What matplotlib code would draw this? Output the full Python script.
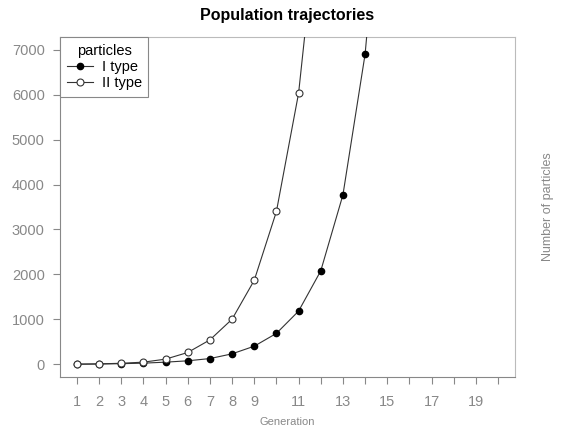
import matplotlib
matplotlib.use("Agg")
import matplotlib.pyplot as plt

# generations and population sizes
gen_type1 = [1, 2, 3, 4, 5, 6, 7, 8, 9, 10, 11, 12, 13, 14, 15]
pop_type1 = [5, 9, 16, 28, 50, 80, 130, 235, 405, 690, 1185, 2080, 3770, 6900, 12400]

gen_type2 = [1, 2, 3, 4, 5, 6, 7, 8, 9, 10, 11, 12]
pop_type2 = [5, 12, 25, 50, 117, 265, 545, 1005, 1870, 3400, 6030, 10650]

x_ticks = list(range(1, 21))
x_labels = ['1', '2', '3', '4', '5', '6', '7', '8', '9', '', '11', '', '13', '',
            '15', '', '17', '', '19', '']
y_ticks = [0, 1000, 2000, 3000, 4000, 5000, 6000, 7000]

plt.rcParams['font.family'] = ['Liberation Sans', 'DejaVu Sans']

fig = plt.figure(figsize=(5.63, 4.30), dpi=100)
ax = fig.add_axes([60 / 563, 53 / 430, 455 / 563, 340 / 430])

line_col = '#333333'
ax.plot(gen_type1, pop_type1, color=line_col, lw=0.8, marker='o', ms=4.5,
        mfc='black', mec='black', label='I type', zorder=3)
ax.plot(gen_type2, pop_type2, color=line_col, lw=0.8, marker='o', ms=5,
        mfc='white', mec=line_col, mew=0.8, label='II type', zorder=4)

ax.set_xlim(0.24, 20.76)
ax.set_ylim(-280, 7280)
ax.set_xticks(x_ticks)
ax.set_xticklabels(x_labels)
ax.set_yticks(y_ticks)

ax.tick_params(axis='both', colors='#888888', labelcolor='#888888',
               labelsize=10.5, length=5, width=0.8, direction='out')
ax.tick_params(axis='y', pad=6)
ax.tick_params(axis='x', pad=8)

for side in ['left', 'bottom']:
    ax.spines[side].set_color('#888888')
    ax.spines[side].set_linewidth(0.8)
for side in ['top', 'right']:
    ax.spines[side].set_color('#bbbbbb')
    ax.spines[side].set_linewidth(0.8)

ax.set_title('Population trajectories', fontsize=11.5, fontweight='bold', pad=12)
ax.set_xlabel('Generation', fontsize=8, color='#888888', labelpad=6)
fig.text(548 / 563, 1 - 207 / 430, 'Number of particles', rotation=90,
         fontsize=9, color='#888888', ha='center', va='center')

leg = ax.legend(title='particles', loc='upper left', bbox_to_anchor=(0, 1),
                borderaxespad=0, fancybox=False, fontsize=10.5, title_fontsize=10.5,
                handlelength=1.8, handletextpad=0.6, borderpad=0.45,
                labelspacing=0.15, framealpha=1)
leg.get_frame().set_edgecolor('#888888')
leg.get_frame().set_linewidth(0.8)

fig.savefig('out.png', dpi=100)
